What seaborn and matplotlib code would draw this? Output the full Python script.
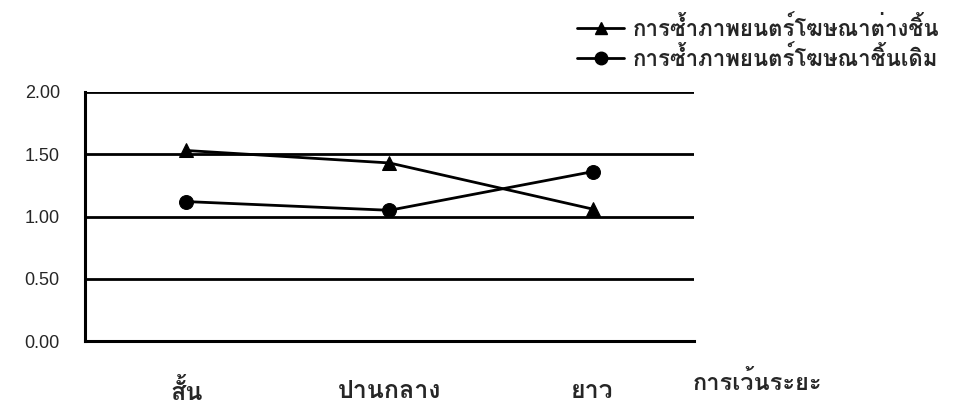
import seaborn as sns
import matplotlib.pyplot as plt
import pandas as pd
from matplotlib import font_manager
from matplotlib.ft2font import FT2Font

# values
categories = ['สั้น', 'ปานกลาง', 'ยาว']
series_names = ['การซ้ำภาพยนตร์โฆษณาต่างชิ้น', 'การซ้ำภาพยนตร์โฆษณาชิ้นเดิม']
different_ad = [1.53, 1.43, 1.06]
same_ad = [1.12, 1.05, 1.36]
y_ticks = [0.0, 0.5, 1.0, 1.5, 2.0]
x_title = 'การเว้นระยะ'

data = pd.DataFrame({
    'spacing': categories * 2,
    'score': different_ad + same_ad,
    'series': [series_names[0]] * 3 + [series_names[1]] * 3,
})

# find any installed family that has Thai glyphs
thai = []
for f in font_manager.fontManager.ttflist:
    try:
        if 0x0E01 in FT2Font(f.fname).get_charmap() and f.name not in thai:
            thai.append(f.name)
    except Exception:
        pass

sns.set_style('white')
plt.rcParams['font.family'] = ['Liberation Sans'] + thai + ['DejaVu Sans']

fig = plt.figure(figsize=(9.64, 4.16), dpi=100)
ax = fig.add_axes([0.088, 0.18, 0.632, 0.599])

sns.lineplot(data=data, x='spacing', y='score', hue='series', style='series',
             markers={series_names[0]: '^', series_names[1]: 'o'}, dashes=False,
             palette=['black', 'black'], linewidth=2, markersize=10,
             markeredgecolor='black', ax=ax, legend=False, zorder=5)

for v in y_ticks[1:]:
    ax.axhline(v, color='black', linewidth=2, zorder=1)

ax.set_xlim(-0.5, 2.5)
ax.set_ylim(0, 2.0)
ax.set_yticks(y_ticks)
ax.set_yticklabels([f'{v:.2f}' for v in y_ticks], fontsize=13)
ax.set_xticks([-0.5, 0.5, 1.5, 2.5])
ax.set_xticklabels([])
ax.set_xticks(range(len(categories)), minor=True)
ax.set_xticklabels(categories, minor=True, fontsize=18, fontweight='bold')
ax.tick_params(axis='x', which='major', direction='out', length=7, width=2, color='black')
ax.tick_params(axis='x', which='minor', length=0, pad=27)
ax.tick_params(axis='y', direction='out', length=5, width=2, color='black', pad=13)
ax.set_xlabel('')
ax.set_ylabel('')
for side in ['top', 'right']:
    ax.spines[side].set_visible(False)
for side in ['left', 'bottom']:
    ax.spines[side].set_color('black')
    ax.spines[side].set_linewidth(2.2)

fig.text(0.719, 0.08, x_title, fontsize=17, fontweight='bold', ha='left', va='center')

handles = [plt.Line2D([], [], color='black', marker=m, markersize=9, linewidth=2)
           for m in ['^', 'o']]
fig.legend(handles, series_names, loc='upper left', bbox_to_anchor=(0.578, 1.01),
           frameon=False, prop={'weight': 'bold', 'size': 16},
           handlelength=2.1, handletextpad=0.4, labelspacing=0.25)

fig.savefig('out.png', dpi=100)
